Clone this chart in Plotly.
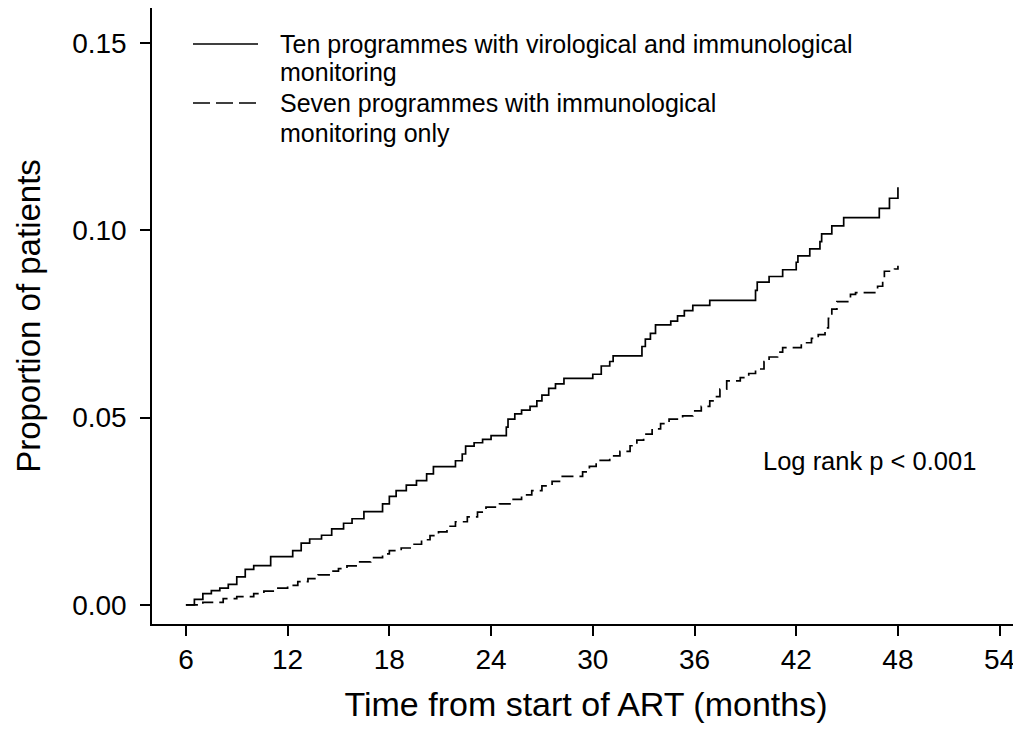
import plotly.graph_objects as go

# Ten programmes with virological and immunological monitoring (step times, cumulative proportion)
vir_t = [6.0, 6.5, 7.0, 7.5, 8.0, 8.5, 9.0, 9.5, 10.0, 11.0, 12.3, 12.8, 13.3, 14.0, 14.6,
         15.3, 15.8, 16.5, 17.6, 18.0, 18.4, 19.0, 19.6, 20.2, 20.6, 21.9, 22.3, 22.5, 23.0,
         23.5, 24.0, 24.9, 25.0, 25.4, 25.8, 26.3, 26.7, 27.0, 27.4, 27.8, 28.3, 30.0, 30.5,
         31.0, 31.2, 32.9, 33.1, 33.4, 33.7, 34.6, 35.0, 35.4, 35.9, 36.9, 39.6, 39.7, 40.4,
         41.2, 42.0, 42.1, 42.8, 43.4, 43.5, 44.1, 44.8, 46.9, 47.5, 48.0]
vir_v = [0.0, 0.0015, 0.0030, 0.0038, 0.0045, 0.0055, 0.0075, 0.0095, 0.0105, 0.0129, 0.0145,
         0.0165, 0.0176, 0.0186, 0.0203, 0.0218, 0.0230, 0.0249, 0.0270, 0.0290, 0.0305, 0.0320,
         0.0332, 0.0350, 0.0369, 0.0385, 0.0403, 0.0424, 0.0433, 0.0442, 0.0452, 0.0475, 0.0496,
         0.0510, 0.0520, 0.0530, 0.0545, 0.0560, 0.0578, 0.0590, 0.0605, 0.0616, 0.0638, 0.0650,
         0.0665, 0.0690, 0.0710, 0.0725, 0.0748, 0.0758, 0.0772, 0.0786, 0.0800, 0.0813, 0.0840,
         0.0862, 0.0877, 0.0895, 0.0915, 0.0932, 0.0951, 0.0970, 0.0991, 0.1012, 0.1034, 0.1059,
         0.1086, 0.1115]

# Seven programmes with immunological monitoring only
imm_t = [6.0, 7.0, 8.2, 9.0, 10.0, 10.6, 11.3, 12.0, 12.6, 13.2, 13.8, 14.5, 15.0, 15.5, 16.2,
         16.9, 17.6, 18.0, 18.7, 19.3, 19.9, 20.4, 20.9, 21.4, 21.9, 22.6, 23.2, 23.7, 24.5,
         25.2, 25.8, 26.4, 27.0, 27.6, 28.2, 29.4, 29.8, 30.2, 31.0, 31.6, 32.2, 32.6, 33.0,
         33.5, 34.0, 34.5, 35.3, 35.9, 36.4, 36.9, 37.3, 37.5, 37.9, 38.7, 39.2, 39.6, 40.1,
         40.4, 40.9, 41.2, 42.3, 42.9, 43.3, 43.7, 43.9, 44.1, 44.4, 45.2, 45.5, 46.8, 47.1,
         47.2, 47.8, 48.0]
imm_v = [0.0, 0.0007, 0.0017, 0.0022, 0.0030, 0.0037, 0.0045, 0.0052, 0.0062, 0.0070, 0.0080,
         0.0090, 0.0097, 0.0104, 0.0115, 0.0126, 0.0136, 0.0145, 0.0152, 0.0162, 0.0174, 0.0185,
         0.0195, 0.0210, 0.0222, 0.0235, 0.0248, 0.0261, 0.0270, 0.0282, 0.0294, 0.0305, 0.0318,
         0.0330, 0.0343, 0.0355, 0.0370, 0.0386, 0.0398, 0.0410, 0.0425, 0.0440, 0.0456, 0.0470,
         0.0484, 0.0496, 0.0505, 0.0518, 0.0530, 0.0545, 0.0556, 0.0576, 0.0598, 0.0607, 0.0618,
         0.0630, 0.0650, 0.0662, 0.0675, 0.0687, 0.0700, 0.0712, 0.0722, 0.0740, 0.0765, 0.0790,
         0.0810, 0.0829, 0.0834, 0.0851, 0.0865, 0.0891, 0.0897, 0.0906]

x_ticks = [6, 12, 18, 24, 30, 36, 42, 48, 54]
y_ticks = [0.00, 0.05, 0.10, 0.15]
y_tick_labels = ["0.00", "0.05", "0.10", "0.15"]

series_names = ["Ten programmes with virological and immunological<br>monitoring",
                "Seven programmes with immunological<br>monitoring only"]

FONT = "Liberation Sans, Arial, sans-serif"

fig = go.Figure()
fig.add_trace(go.Scatter(x=vir_t, y=vir_v, mode="lines", line_shape="hv",
                         line=dict(color="black", width=1.7),
                         name=series_names[0], showlegend=False))
fig.add_trace(go.Scatter(x=imm_t, y=imm_v, mode="lines", line_shape="hv",
                         line=dict(color="black", width=1.7, dash="12px,6px"),
                         name=series_names[1], showlegend=False))

# page body has an 8px margin; size the figure so that it fills the window
OFF = 8
W, H = 1021 - OFF, 744 - OFF
L, R, T, B = 144, 1, 0, 120
pw, ph = W - L - R, H - T - B


def px(xs):  # screen x -> paper
    return (xs - OFF - L) / pw


def py(ys):  # screen y -> paper
    return (H - B - (ys - OFF)) / ph


legend_rows = [(44, 72, "solid"), (103, 133, "17px,6px")]
for i, (y1, y2, dash) in enumerate(legend_rows):
    fig.add_shape(type="line", xref="paper", yref="paper",
                  x0=px(193), x1=px(258), y0=py(y1), y1=py(y1),
                  line=dict(color="black", width=1.5, dash=dash))
    first, second = series_names[i].split("<br>")
    fig.add_annotation(xref="paper", yref="paper", x=px(278), y=py(y1),
                       text=first, showarrow=False, xanchor="left", yanchor="middle",
                       font=dict(family=FONT, size=25, color="black"))
    fig.add_annotation(xref="paper", yref="paper", x=px(278), y=py(y2),
                       text=second, showarrow=False, xanchor="left", yanchor="middle",
                       font=dict(family=FONT, size=25, color="black"))

fig.add_annotation(x=39.95, y=0.0384, text="Log rank p < 0.001", showarrow=False,
                   xanchor="left", yanchor="middle",
                   font=dict(family=FONT, size=25.5, color="black"))

fig.update_layout(
    width=W, height=H,
    margin=dict(l=L, r=R, t=T, b=B, pad=0),
    paper_bgcolor="white", plot_bgcolor="white",
    font=dict(family=FONT, color="black"),
    xaxis=dict(range=[4.0, 55.2], tickvals=x_ticks, ticks="outside", ticklen=10,
               tickwidth=1.5, tickcolor="black", showline=True, linecolor="black",
               linewidth=1.5, showgrid=False, zeroline=False,
               tickfont=dict(family=FONT, size=28, color="black"),
               ticklabelstandoff=0,
               title=dict(text="Time from start of ART (months)",
                          font=dict(family=FONT, size=34, color="black"), standoff=18)),
    yaxis=dict(range=[-0.0051, 0.1594], tickvals=y_ticks, ticktext=y_tick_labels,
               ticks="outside", ticklen=10, tickwidth=1.5, tickcolor="black",
               showline=True, linecolor="black", linewidth=1.5, showgrid=False,
               zeroline=False, tickfont=dict(family=FONT, size=28, color="black"),
               ticklabelstandoff=8,
               title=dict(text="Proportion of patients",
                          font=dict(family=FONT, size=33, color="black"), standoff=22)),
)

fig.write_html("out.html")
